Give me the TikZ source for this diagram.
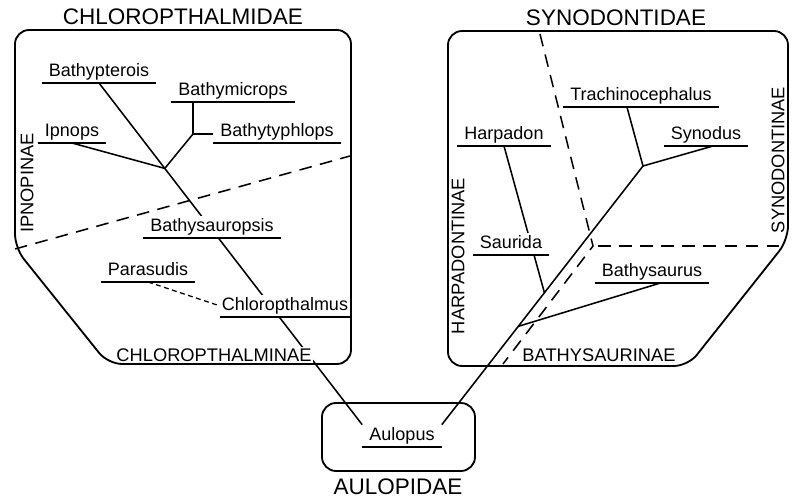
\documentclass[tikz,border=0pt]{standalone}
\usepackage{fontspec}
\setmainfont{Liberation Sans}
\usepackage{tikz}
\usetikzlibrary{calc}
\usetikzlibrary{backgrounds}
\tikzset{
  taxon/.style={anchor=south, fill=white, inner xsep=5pt, inner ysep=1.5pt,
    text height=9.5pt, text depth=3pt, font=\fontsize{12.8}{14}\selectfont,
    append after command={(\tikzlastnode.south west) edge[line width=1.2pt] (\tikzlastnode.south east)}},
  subfam/.style={fill=white, inner sep=1pt, font=\fontsize{13}{15}\selectfont},
  family/.style={inner sep=1pt, font=\fontsize{16}{18}\selectfont},
  branch/.style={line width=1.1pt},
  divider/.style={line width=1.1pt, dash pattern=on 9pt off 6pt},
  boxline/.style={line width=1.3pt, rounded corners=10pt}
}

\begin{document}
\begin{tikzpicture}[x=0.025cm, y=-0.025cm]
            % Frame to ensure the margins:
            \useasboundingbox (0,0) rectangle (797,498);
            % families
            \node[family] (chlorotitle) at (183,17)  {CHLOROPTHALMIDAE};
            \node[family] (synotitle)   at (616,18)  {SYNODONTIDAE};
            \node[family] (aulotitle)   at (398,487) {AULOPIDAE};
            % subfamilies
            \node[subfam, rotate=90] (ipnopinae)     at (27,183)  {IPNOPINAE};
            \node[subfam]            (chlorinae)     at (214,355) {CHLOROPTHALMINAE};
            \node[subfam, rotate=90] (harpadontinae) at (458,256) {HARPADONTINAE};
            \node[subfam, rotate=90] (synodontinae)  at (778,160) {SYNODONTINAE};
            \node[subfam]            (bathysaurinae) at (599,355) {BATHYSAURINAE};
            % genera, set by the middle of their underline
            \node[taxon] (bathypterois)     at (99,83)   {Bathypterois};
            \node[taxon] (bathymicrops)     at (233,102) {Bathymicrops};
            \node[taxon] (ipnops)           at (72,143)  {Ipnops};
            \node[taxon] (bathytyphlops)    at (277,143) {Bathytyphlops};
            \node[taxon] (bathysauropsis)   at (212,238) {Bathysauropsis};
            \node[taxon] (parasudis)        at (148,282) {Parasudis};
            \node[taxon, inner xsep=1.5pt] (chloropthalmus) at (285,317) {Chloropthalmus};
            \node[taxon] (aulopus)          at (402,447) {Aulopus};
            \node[taxon] (trachinocephalus) at (641,107) {Trachinocephalus};
            \node[taxon] (harpadon)         at (504,146) {Harpadon};
            \node[taxon] (synodus)          at (706,146) {Synodus};
            \node[taxon] (saurida)          at (511,255) {Saurida};
            \node[taxon] (bathysaurus)      at (652,283) {Bathysaurus};
            % branching points
            \coordinate (ipnjoin)  at ($(bathypterois.south)!0.25!(aulopus.north west)$);
            \coordinate (micjoin)  at (193,134);
            \coordinate (synjoin)  at (643,166);
            \coordinate (saurjoin) at ($(aulopus.north east)!0.51!(synjoin)$);
            \coordinate (bsjoin)   at ($(aulopus.north east)!0.38!(synjoin)$);
            % outlines
            \draw[boxline] (15,248) -- (15,30) -- (351,30) -- (351,364) -- (108,364) -- cycle;
            \draw[boxline] (448,31) -- (788,31) -- (788,240) -- (688,366) -- (448,366) -- cycle;
            \draw[boxline] (322,403) rectangle (475,471);
            \begin{scope}[on background layer]
                \draw[divider] (15,249) -- (350,156);
                \draw[divider] (540,34) -- (590,234) -- (593,246) -- (503,364);
                \draw[divider] (598,246) -- (782,246);
                % tree
                \draw[branch] (bathypterois.south) -- (aulopus.north west);
                \draw[branch] (ipnops.south) -- (ipnjoin) -- (micjoin) -- (micjoin |- bathymicrops.south);
                \draw[branch] (micjoin) -- (micjoin -| bathytyphlops.west);
                \draw[line width=0.9pt, dash pattern=on 3.5pt off 2.5pt] (parasudis.south) -- (chloropthalmus.west);
                \draw[branch] (aulopus.north east) -- (synjoin) -- ([xshift=-10pt]trachinocephalus.south);
                \draw[branch] (synjoin) -- ([xshift=5pt]synodus.south);
                \draw[branch] (harpadon.south) -- (saurjoin);
                \draw[branch] (bsjoin) -- ([xshift=6pt]bathysaurus.south);
            \end{scope}
        \end{tikzpicture}
\end{document}
